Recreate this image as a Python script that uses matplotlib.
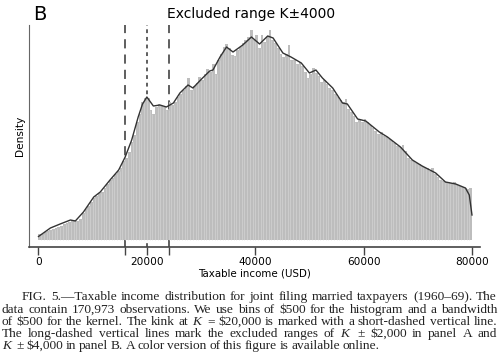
import matplotlib
matplotlib.use('Agg')
import matplotlib.pyplot as plt
import numpy as np

# Altura de cada barra (bins de 500, de 0 a 80000), en unidades relativas
alturas = [
    6, 6, 8, 9, 10, 11, 12, 13, 14, 16,
    17, 18, 20, 20, 19, 21, 27, 31, 34, 38,
    42, 44, 47, 48, 52, 56, 60, 62, 66, 69,
    72, 79, 82, 88, 98, 105, 118, 126, 138, 142,
    142, 130, 126, 133, 136, 134, 133, 130, 138, 135,
    138, 143, 146, 150, 154, 162, 150, 154, 157, 163,
    160, 166, 171, 168, 176, 166, 180, 186, 193, 196,
    192, 185, 184, 190, 193, 197, 200, 203, 210, 200,
    205, 192, 205, 198, 203, 210, 200, 197, 192, 186,
    183, 186, 195, 180, 180, 176, 178, 174, 168, 162,
    166, 172, 167, 164, 158, 160, 156, 152, 150, 146,
    143, 140, 138, 141, 131, 128, 124, 118, 121, 118,
    121, 118, 115, 112, 109, 106, 108, 104, 103, 101,
    99, 97, 94, 93, 95, 89, 82, 80, 79, 77,
    76, 74, 73, 72, 69, 72, 66, 63, 60, 59,
    58, 58, 57, 58, 55, 54, 53, 52, 51, 52,
]
bins = np.arange(0, 80001, 500)

# Curva del kernel (ingreso, densidad)
kernel_x = [0, 2200, 4000, 5900, 6800, 8300, 10200, 11400, 13200, 14800,
            16000, 17200, 18400, 19200, 20000, 21200, 22400, 23600, 24900,
            26100, 27600, 28500, 30100, 31600, 32200, 33500, 34700, 35900,
            37700, 39300, 40800, 42300, 43300, 45100, 46600, 48500, 50000,
            51200, 52400, 54300, 55500, 56100, 57000, 58900, 60400, 62900,
            64400, 66800, 69000, 70800, 73300, 75100, 77000, 78800, 79500, 80000]
kernel_y = [3.5, 12, 16, 20, 19, 28, 43, 48, 60, 70,
            83, 100, 123, 136, 143, 134, 135, 133, 137,
            147, 155, 152, 161, 169, 170, 183, 193, 188,
            195, 203, 196, 204, 202, 187, 183, 177, 167,
            170, 162, 152, 142, 137, 136, 121, 119, 108,
            103, 93, 80, 74, 67, 58, 56, 52, 45, 25]

K = 20000
rango = 4000

fig = plt.figure(figsize=(5, 3.64), dpi=100)
ax = fig.add_axes([29 / 500, 1 - 247 / 364, 451 / 500, 222 / 364])

ax.stairs(alturas, bins, fill=True, color='#bdbdbd', zorder=2)
ax.vlines(bins[1:-1], 0, [min(a, b) for a, b in zip(alturas[:-1], alturas[1:])],
          color='#d8d8d8', lw=0.4, zorder=2.5)
ax.plot(kernel_x, kernel_y, color='#333333', lw=1.0, zorder=3)

# Líneas verticales
ax.axvline(K - rango, color='#333333', lw=1.1, ls=(0, (6, 4)), zorder=1)
ax.axvline(K + rango, color='#333333', lw=1.1, ls=(0, (6, 4)), zorder=1)
ax.axvline(K, color='#333333', lw=1.1, ls=(0, (2.5, 2.5)), zorder=1)

ax.set_xlim(-1750, 81480)
ax.set_ylim(-7, 215)
ax.set_xticks([0, 16000, 20000, 24000, 40000, 60000, 80000])
ax.set_xticklabels(['0', '', '20000', '', '40000', '60000', '80000'], fontsize=7.6)
ax.set_yticks([])
ax.tick_params(axis='x', length=6, width=1, color='#444444', pad=1.5)
for s in ['top', 'right']:
    ax.spines[s].set_visible(False)
ax.spines['left'].set_color('#666666')
ax.spines['bottom'].set_color('#444444')
ax.spines['bottom'].set_linewidth(1.2)
ax.set_xlabel('Taxable income (USD)', fontsize=7.4, labelpad=0.5)
ax.set_ylabel('Density', fontsize=7.6, labelpad=3)

fig.text(33 / 500, 1 - 15 / 364, 'B', fontsize=14, va='center', ha='left')
fig.text(251 / 500, 1 - 14 / 364, 'Excluded range K\u00b14000', fontsize=10,
         va='center', ha='center')

# Pie de figura, justificado
plt.rcParams['mathtext.fontset'] = 'custom'
plt.rcParams['mathtext.it'] = 'Liberation Serif:italic'
plt.rcParams['mathtext.rm'] = 'Liberation Serif'
lineas = [
    'FIG. 5.\u2014Taxable income distribution for joint filing married taxpayers (1960\u201369). The',
    'data contain 170,973 observations. We use bins of \\$500 for the histogram and a bandwidth',
    'of \\$500 for the kernel. The kink at $K$ = \\$20,000 is marked with a short-dashed vertical line.',
    'The long-dashed vertical lines mark the excluded ranges of $K$ \u00b1 \\$2,000 in panel A and',
    '$K$ \u00b1 \\$4,000 in panel B. A color version of this figure is available online.',
]
ys = [297, 310, 322, 334, 346]
x0s = [22, 2, 2, 2, 2]
x1 = 497
renderer = fig.canvas.get_renderer()
for i, (linea, y, x0) in enumerate(zip(lineas, ys, x0s)):
    palabras = linea.split(' ')
    textos = [fig.text(0, 1 - y / 364, p, fontsize=9.6, family='Liberation Serif',
                       color='#222222', va='center', ha='left') for p in palabras]
    anchos = [t.get_window_extent(renderer).width for t in textos]
    if i < len(lineas) - 1:
        hueco = (x1 - x0 - sum(anchos)) / (len(palabras) - 1)
    else:
        hueco = 2.6
    x = x0
    for t, w in zip(textos, anchos):
        t.set_x(x / 500)
        x += w + hueco

fig.savefig('out.png', dpi=100)
